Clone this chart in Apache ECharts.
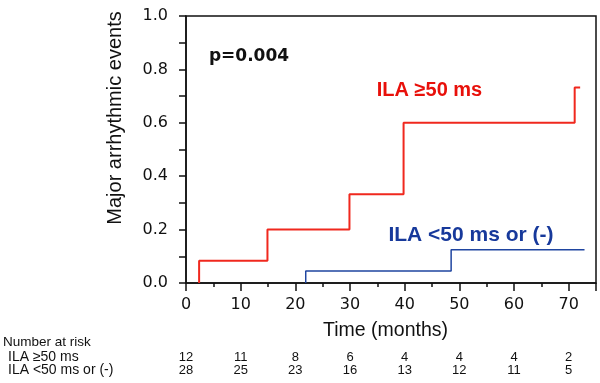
<!DOCTYPE html>
<html>
<head>
<meta charset="utf-8">
<script src="https://cdn.jsdelivr.net/npm/echarts@6/dist/echarts.min.js"></script>
<style>
  html, body { margin: 0; padding: 0; background: #fff; }
  #chart { width: 600px; height: 383px; }
</style>
</head>
<body>
<div id="chart"></div>
<script>
// ---- data ----
const redTimes = [2.4, 14.9, 29.9, 39.8, 71.1];
const redValues = [0.083, 0.2, 0.332, 0.6, 0.732];
const redEnd = 72.1;
const blueTimes = [21.9, 48.5];
const blueValues = [0.045, 0.125];
const blueEnd = 72.9;
const xTicks = [0, 10, 20, 30, 40, 50, 60, 70];
const riskHigh = [12, 11, 8, 6, 4, 4, 4, 2];
const riskLow = [28, 25, 23, 16, 13, 12, 11, 5];
const groupNames = ['ILA \u226550 ms', 'ILA <50 ms or (-)'];

function kmData(times, values, endT) {
  const d = [[times[0], 0]];
  for (let i = 0; i < times.length; i++) d.push([times[i], values[i]]);
  d.push([endT, values[values.length - 1]]);
  return d;
}

const black = '#111';
const tickFont = 'DejaVu Sans, Verdana, sans-serif';
const txtFont = 'Liberation Sans, Arial, sans-serif';

function riskAxis(values, margin) {
  return {
    type: 'value', gridIndex: 0, position: 'bottom', offset: 0,
    min: 0, max: 75, interval: 10,
    axisLine: { show: false }, axisTick: { show: false }, splitLine: { show: false },
    axisLabel: {
      margin: margin, fontFamily: txtFont, fontSize: 13, color: black,
      formatter: v => { const i = xTicks.indexOf(v); return i >= 0 ? String(values[i]) : ''; }
    }
  };
}

const chart = echarts.init(document.getElementById('chart'), null, { renderer: 'canvas' });
chart.setOption({
  animation: false,
  backgroundColor: '#fff',
  grid: { left: 186, right: 4, top: 16, bottom: 100, show: true, borderColor: black, borderWidth: 1.5, backgroundColor: 'transparent' },
  xAxis: [
    {
      type: 'value', min: 0, max: 75, interval: 10,
      axisLine: { onZero: false, lineStyle: { color: black, width: 1.5 } },
      axisTick: { length: 8, lineStyle: { color: black, width: 1.5 } },
      minorTick: { show: true, splitNumber: 2, length: 4, lineStyle: { color: black, width: 1.5 } },
      splitLine: { show: false },
      axisLabel: {
        margin: 14, fontFamily: tickFont, fontSize: 16, color: black,
        formatter: v => (v % 10 === 0 ? String(v) : '')
      }
    },
    riskAxis(riskHigh, 68),
    riskAxis(riskLow, 81)
  ],
  yAxis: {
    type: 'value', min: 0, max: 1, interval: 0.1,
    axisLine: { lineStyle: { color: black, width: 1.5 } },
    axisTick: { length: 7, lineStyle: { color: black, width: 1.5 } },
    splitLine: { show: false },
    axisLabel: {
      margin: 18, fontFamily: tickFont, fontSize: 16, color: black,
      formatter: v => (Math.round(v * 10) % 2 === 0 ? v.toFixed(1) : '')
    }
  },
  series: [
    {
      type: 'line', step: 'end', symbol: 'none', xAxisIndex: 0,
      data: kmData(redTimes, redValues, redEnd),
      lineStyle: { color: '#f0281e', width: 2 }
    },
    {
      type: 'line', step: 'end', symbol: 'none', xAxisIndex: 0,
      data: kmData(blueTimes, blueValues, blueEnd),
      lineStyle: { color: '#1f45a0', width: 1.5 }
    }
  ],
  graphic: [
    { type: 'text', x: 115, y: 118, rotation: Math.PI / 2,
      style: { text: 'Major arrhythmic events', font: '20px ' + txtFont, fill: black, textAlign: 'center', textVerticalAlign: 'middle' } },
    { type: 'text', x: 385.5, y: 331,
      style: { text: 'Time (months)', font: '19.5px ' + txtFont, fill: black, textAlign: 'center', textVerticalAlign: 'middle' } },
    { type: 'text', x: 249, y: 57,
      style: { text: 'p=0.004', font: 'bold 17px ' + tickFont, fill: black, textAlign: 'center', textVerticalAlign: 'middle' } },
    { type: 'text', x: 429.5, y: 90,
      style: { text: groupNames[0], font: 'bold 20px ' + txtFont, fill: '#e8100a', textAlign: 'center', textVerticalAlign: 'middle' } },
    { type: 'text', x: 471, y: 235,
      style: { text: groupNames[1], font: 'bold 21px ' + txtFont, fill: '#17399b', textAlign: 'center', textVerticalAlign: 'middle' } },
    { type: 'text', x: 3, y: 342.5,
      style: { text: 'Number at risk', font: '13.5px ' + txtFont, fill: black, textAlign: 'left', textVerticalAlign: 'middle' } },
    { type: 'text', x: 8, y: 357,
      style: { text: groupNames[0], font: '14px ' + txtFont, fill: black, textAlign: 'left', textVerticalAlign: 'middle' } },
    { type: 'text', x: 8, y: 370,
      style: { text: groupNames[1], font: '14px ' + txtFont, fill: black, textAlign: 'left', textVerticalAlign: 'middle' } }
  ]
});
</script>
</body>
</html>
